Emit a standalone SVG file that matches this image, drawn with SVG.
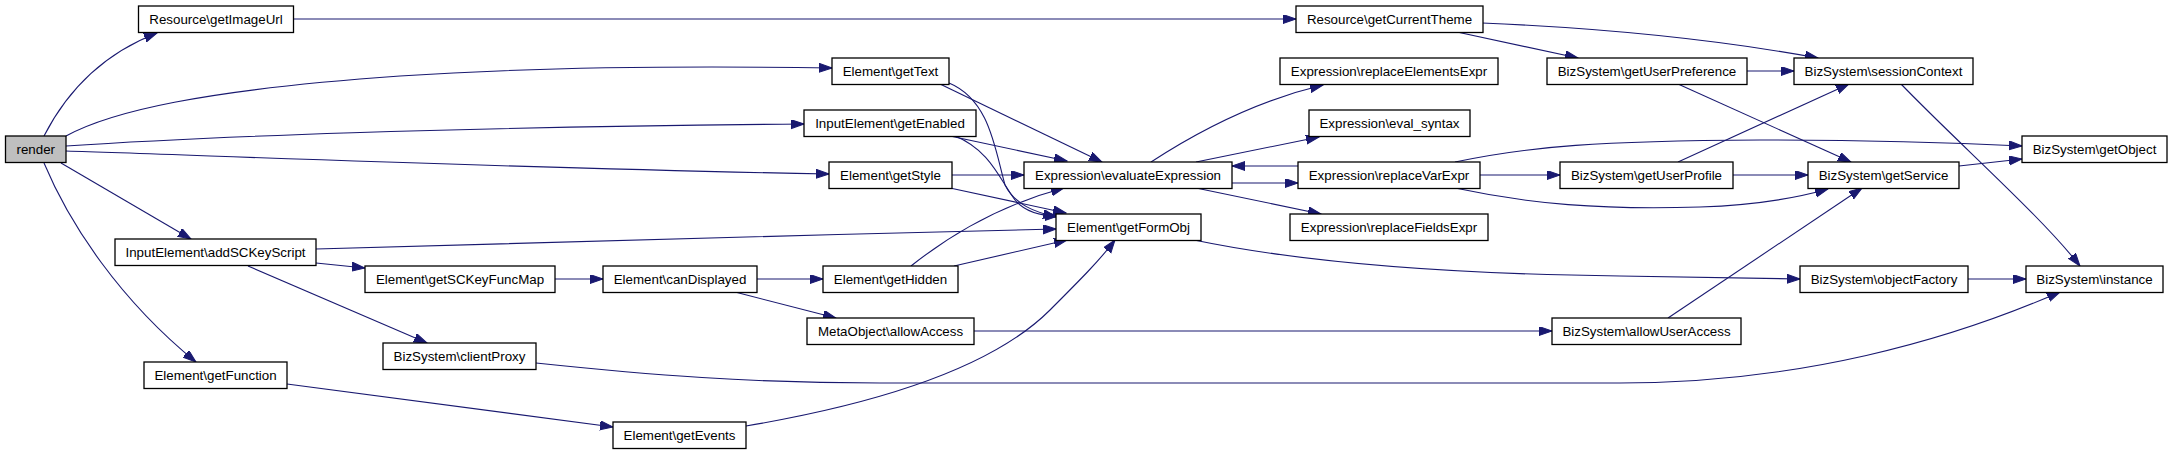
<svg xmlns="http://www.w3.org/2000/svg" width="2173" height="455" viewBox="0 0 2173 455">
<style>
.n rect{fill:#ffffff;stroke:#000000;stroke-width:1.3}
.n.root rect{fill:#bfbfbf}
.n text{font-family:"Liberation Sans",Arial,sans-serif;font-size:13.33px;fill:#000000;text-anchor:middle}
#edges path{fill:none;stroke:#191970;stroke-width:1.1;marker-end:url(#ah)}
</style>
<defs>
<marker id="ah" markerUnits="userSpaceOnUse" markerWidth="14" markerHeight="10" refX="13" refY="4.5" orient="auto">
<path d="M0,0 L13,4.5 L0,9 z" fill="#191970" stroke="#191970" stroke-width="1"/>
</marker>
</defs>
<rect width="2173" height="455" fill="#ffffff"/>
<g id="edges">
<path d="M44,136 C65,95 100,55 157,33"/>
<path d="M66,136 C110,112 200,90 400,76 C550,66 700,66 832,68"/>
<path d="M66,146 C200,137 450,127 804,124"/>
<path d="M66,151 C200,155 500,168 829,174"/>
<path d="M61,163 L191,239"/>
<path d="M44,163 C70,225 120,300 196,362"/>
<path d="M293,19 L1296,19"/>
<path d="M1482,23 C1600,28 1720,40 1818,58"/>
<path d="M1457,32 L1578,58"/>
<path d="M940,84 L1102,162"/>
<path d="M949,83 C990,100 995,150 1005,185 C1015,205 1035,212 1056,217"/>
<path d="M950,136 L1067,161"/>
<path d="M955,136 C990,150 1000,180 1015,200 C1025,212 1040,216 1058,216"/>
<path d="M952,175 L1024,175"/>
<path d="M950,188 L1066,213"/>
<path d="M316,249 C500,244 800,235 1056,229"/>
<path d="M316,263 L365,268"/>
<path d="M248,266 L427,343"/>
<path d="M555,279 L603,279"/>
<path d="M757,279 L823,279"/>
<path d="M735,292 L836,318"/>
<path d="M911,266 C950,235 1000,205 1064,188"/>
<path d="M954,266 L1067,240"/>
<path d="M974,331 L1552,331"/>
<path d="M536,363 C650,375 750,383 880,383 L1620,383 C1800,383 1950,340 2060,292"/>
<path d="M287,384 L613,427"/>
<path d="M746,426 C900,400 1000,360 1050,310 C1080,280 1100,260 1115,240"/>
<path d="M1151,162 C1200,130 1260,100 1323,85"/>
<path d="M1196,162 L1319,137"/>
<path d="M1232,183 L1298,183"/>
<path d="M1298,166 L1232,166"/>
<path d="M1196,188 L1321,214"/>
<path d="M1455,162 C1530,146 1600,141 1760,140 C1880,140 1960,143 2022,146"/>
<path d="M1480,175 L1560,175"/>
<path d="M1455,188 C1530,204 1600,210 1700,207 C1760,205 1800,197 1828,189"/>
<path d="M1194,240 C1300,262 1450,274 1620,276 L1800,279"/>
<path d="M1747,71 L1794,71"/>
<path d="M1678,84 L1851,162"/>
<path d="M1678,162 L1849,84"/>
<path d="M1733,175 L1808,175"/>
<path d="M1668,318 L1862,188"/>
<path d="M1959,166 L2022,159"/>
<path d="M1901,84 C1960,145 2040,215 2080,266"/>
<path d="M1968,279 L2026,279"/>
</g>
<g id="render" class="n root"><rect x="5.5" y="136" width="60.5" height="26.5"/><text x="35.75" y="154">render</text></g>
<g id="getImageUrl" class="n"><rect x="138.5" y="6" width="155" height="26.5"/><text x="216" y="24">Resource\getImageUrl</text></g>
<g id="addSCKeyScript" class="n"><rect x="115" y="239" width="201" height="26.5"/><text x="215.5" y="257">InputElement\addSCKeyScript</text></g>
<g id="getSCKeyFuncMap" class="n"><rect x="365" y="266" width="190" height="26.5"/><text x="460" y="284">Element\getSCKeyFuncMap</text></g>
<g id="clientProxy" class="n"><rect x="383" y="343" width="153" height="26.5"/><text x="459.5" y="361">BizSystem\clientProxy</text></g>
<g id="getFunction" class="n"><rect x="144" y="362" width="143" height="26.5"/><text x="215.5" y="380">Element\getFunction</text></g>
<g id="getText" class="n"><rect x="832" y="58" width="117" height="26.5"/><text x="890.5" y="76">Element\getText</text></g>
<g id="getEnabled" class="n"><rect x="804" y="110" width="172" height="26.5"/><text x="890" y="128">InputElement\getEnabled</text></g>
<g id="getStyle" class="n"><rect x="829" y="162" width="123" height="26.5"/><text x="890.5" y="180">Element\getStyle</text></g>
<g id="evaluateExpression" class="n"><rect x="1024" y="162" width="208" height="26.5"/><text x="1128" y="180">Expression\evaluateExpression</text></g>
<g id="getFormObj" class="n"><rect x="1056" y="214" width="145" height="26.5"/><text x="1128.5" y="232">Element\getFormObj</text></g>
<g id="canDisplayed" class="n"><rect x="603" y="266" width="154" height="26.5"/><text x="680" y="284">Element\canDisplayed</text></g>
<g id="getHidden" class="n"><rect x="823" y="266" width="135" height="26.5"/><text x="890.5" y="284">Element\getHidden</text></g>
<g id="allowAccess" class="n"><rect x="807" y="318" width="167" height="26.5"/><text x="890.5" y="336">MetaObject\allowAccess</text></g>
<g id="getEvents" class="n"><rect x="613" y="422" width="133" height="26.5"/><text x="679.5" y="440">Element\getEvents</text></g>
<g id="getCurrentTheme" class="n"><rect x="1296" y="6" width="187" height="26.5"/><text x="1389.5" y="24">Resource\getCurrentTheme</text></g>
<g id="replaceElementsExpr" class="n"><rect x="1280" y="58" width="218" height="26.5"/><text x="1389" y="76">Expression\replaceElementsExpr</text></g>
<g id="eval_syntax" class="n"><rect x="1309" y="110" width="161" height="26.5"/><text x="1389.5" y="128">Expression\eval_syntax</text></g>
<g id="replaceVarExpr" class="n"><rect x="1298" y="162" width="182" height="26.5"/><text x="1389" y="180">Expression\replaceVarExpr</text></g>
<g id="replaceFieldsExpr" class="n"><rect x="1290" y="214" width="198" height="26.5"/><text x="1389" y="232">Expression\replaceFieldsExpr</text></g>
<g id="getUserPreference" class="n"><rect x="1547" y="58" width="200" height="26.5"/><text x="1647" y="76">BizSystem\getUserPreference</text></g>
<g id="getUserProfile" class="n"><rect x="1560" y="162" width="173" height="26.5"/><text x="1646.5" y="180">BizSystem\getUserProfile</text></g>
<g id="allowUserAccess" class="n"><rect x="1552" y="318" width="189" height="26.5"/><text x="1646.5" y="336">BizSystem\allowUserAccess</text></g>
<g id="sessionContext" class="n"><rect x="1794" y="58" width="179" height="26.5"/><text x="1883.5" y="76">BizSystem\sessionContext</text></g>
<g id="getService" class="n"><rect x="1808" y="162" width="151" height="26.5"/><text x="1883.5" y="180">BizSystem\getService</text></g>
<g id="objectFactory" class="n"><rect x="1800" y="266" width="168" height="26.5"/><text x="1884" y="284">BizSystem\objectFactory</text></g>
<g id="getObject" class="n"><rect x="2022" y="136" width="145" height="26.5"/><text x="2094.5" y="154">BizSystem\getObject</text></g>
<g id="instance" class="n"><rect x="2026" y="266" width="137" height="26.5"/><text x="2094.5" y="284">BizSystem\instance</text></g>
</svg>
